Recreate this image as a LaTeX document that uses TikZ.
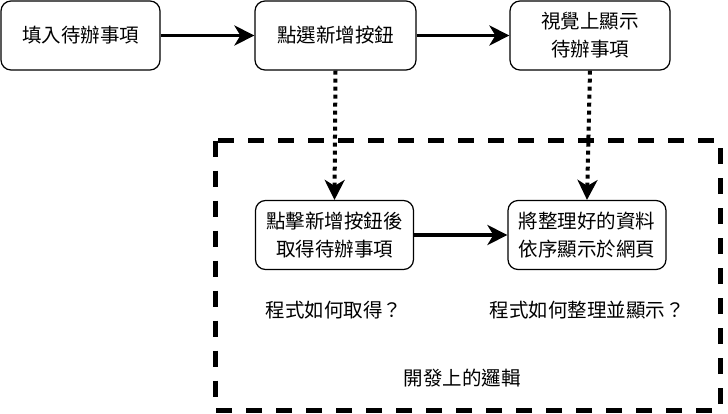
\documentclass[tikz,border=0pt]{standalone}
\usepackage{fontspec}
\setmainfont{Noto Sans CJK TC}
\usetikzlibrary{arrows.meta}
\tikzset{
  stepbox/.style ={draw=black, line width=1.2pt, rounded corners=10pt, fill=white,
                   minimum height=69pt, align=center, inner sep=2pt,
                   font=\fontsize{19.5}{28}\selectfont},
  flowA/.style   ={line width=3.6pt, -{Stealth[length=20pt, width=20pt, inset=6pt]}},
  linkA/.style   ={line width=4pt, dash pattern=on 4pt off 4pt,
                   -{Stealth[length=20pt, width=20pt, inset=6pt]}},
  devzone/.style ={draw=black, line width=5pt, dash pattern=on 16pt off 14pt},
  note/.style    ={font=\fontsize{19.5}{28}\selectfont},
}

\begin{document}
\begin{tikzpicture}[x=1pt,y=-1pt]
  \useasboundingbox (0,0) rectangle (728,413);
  \draw[devzone] (215.5,140.5) rectangle (720,410);
  \node[stepbox, minimum width=159pt] (fill)  at (80.5,35.5) {填入待辦事項};
  \node[stepbox, minimum width=161pt] (click) at (335.5,35.5) {點選新增按鈕};
  \node[stepbox, minimum width=160pt] (show)  at (590,35.5) {視覺上顯示\\待辦事項};
  \node[stepbox, minimum width=158pt] (fetch) at (334.5,235) {點擊新增按鈕後\\取得待辦事項};
  \node[stepbox, minimum width=158pt] (sort)  at (587,235) {將整理好的資料\\依序顯示於網頁};
  \draw[flowA] (fill) -- (click);
  \draw[flowA] (click) -- (show);
  \draw[flowA] (fetch) -- (sort);
  \draw[linkA] (click.south) -- (fetch.north);
  \draw[linkA] (show.south) -- (sort.north);
  \node[note] (askget)  at (334,310) {程式如何取得？};
  \node[note] (askshow) at (587,310) {程式如何整理並顯示？};
  \node[note] (logic)   at (462,378) {開發上的邏輯};
\end{tikzpicture}
\end{document}
